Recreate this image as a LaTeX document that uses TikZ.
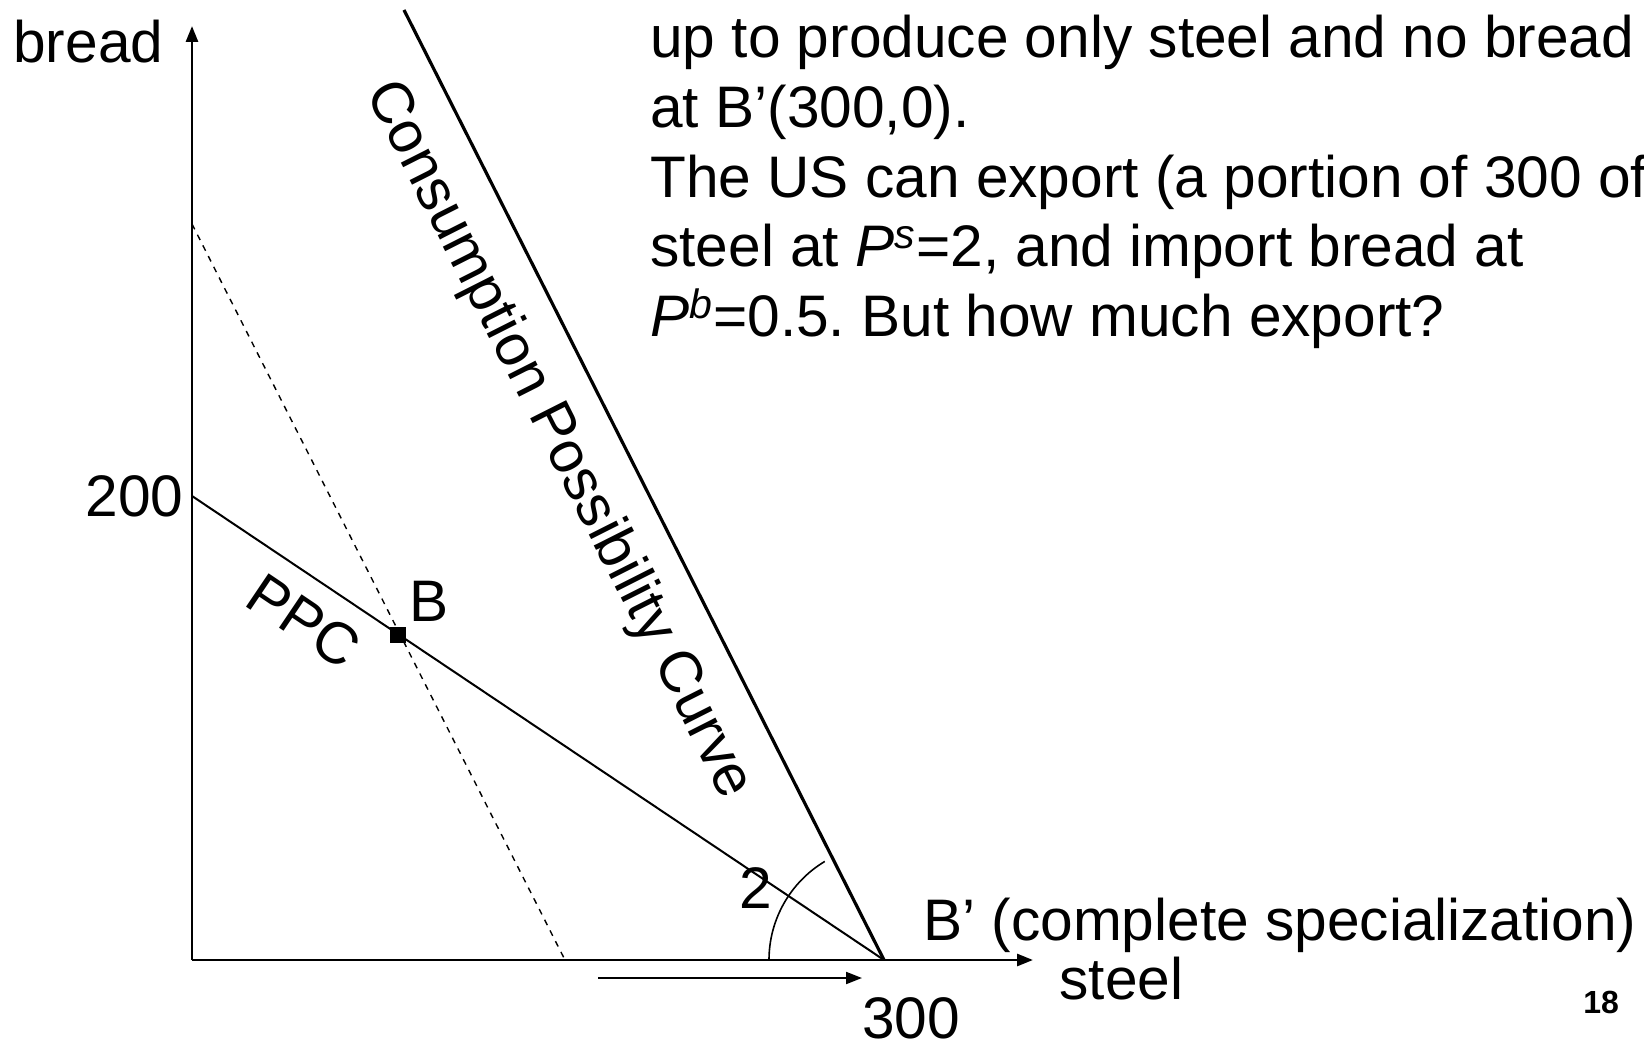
\documentclass[tikz,border=0pt]{standalone}
\usepackage{fontspec}
\setmainfont{Liberation Sans}
\usetikzlibrary{arrows.meta}
\frenchspacing
\begin{document}
\begin{tikzpicture}[x=0.5pt,y=-0.5pt,
  lbl/.style={inner sep=0pt, font=\fontsize{29.3}{35}\selectfont},
  axisline/.style={line width=1.4pt, -{Triangle[length=8pt,width=6pt]}},
  ppcline/.style={line width=1pt},
  cpcline/.style={line width=1.6pt},
  dashline/.style={line width=0.7pt, dash pattern=on 3pt off 3pt},
  arcline/.style={line width=0.8pt},
  exparrow/.style={line width=1pt, -{Triangle[length=8pt,width=6pt]}},
  pointmark/.style={fill=black, draw=none, minimum size=8pt, inner sep=0pt}]
\useasboundingbox (0,0) rectangle (1644,1042);
% coordinates
\coordinate (O) at (192,960);
\coordinate (Ytop) at (192,26);
\coordinate (Xend) at (1033,960);
\coordinate (Y200) at (192,496);
\coordinate (Bp) at (884,960);
\coordinate (Dtop) at (192,224);
\coordinate (Dbot) at (565,960);
\coordinate (Ctop) at (404,10);
\coordinate (ex1) at (598,978);
\coordinate (ex2) at (862,978);
\coordinate (arcstart) at (769,960);
% lines
\draw[dashline] (Dtop) -- (Dbot);
\draw[ppcline] (Y200) -- (Bp);
\draw[cpcline] (Ctop) -- (Bp);
\draw[axisline] (O) -- (Ytop);
\draw[axisline] (O) -- (Xend);
\draw[arcline] (arcstart) arc[start angle=180, end angle=239, radius=115];
\draw[exparrow] (ex1) -- (ex2);
\node[pointmark] (B) at (398,635) {};
% labels
\node[lbl, anchor=base west] (ylab) at (13,63) {bread};
\node[lbl, anchor=base east] (l200) at (184,517) {200};
\node[lbl, anchor=base west] (lB) at (409,622) {B};
\node[lbl, anchor=base west] (l2) at (739,908) {2};
\node[lbl, anchor=base west] (l300) at (862,1038) {300};
\node[lbl, anchor=base west] (lBp) at (923,940) {B’ (complete specialization)};
\node[lbl, anchor=base west] (xlab) at (1059,999) {steel};
\node[inner sep=0pt, anchor=base west, font=\fontsize{16}{18}\selectfont\bfseries] (pg) at (1583,1013) {18};
\node[lbl, rotate=-34] (ppc) at (304,621) {PPC};
\node[lbl, rotate=-63.2] (cpc) at (558,440) {Consumption Possibility Curve};
% text block
\node[lbl, anchor=base west] (t1) at (650,58) {up to produce only steel and no bread};
\node[lbl, anchor=base west] (t2) at (650,127.6) {at B’(300,0).};
\node[lbl, anchor=base west] (t3) at (650,197.2) {The US can export (a portion of 300 of};
\node[lbl, anchor=base west] (t4) at (650,266.8) {steel at \textit{P\textsuperscript{s}}=2, and import bread at};
\node[lbl, anchor=base west] (t5) at (650,336.4) {\textit{P\textsuperscript{b}}=0.5. But how much export?};
\end{tikzpicture}
\end{document}
